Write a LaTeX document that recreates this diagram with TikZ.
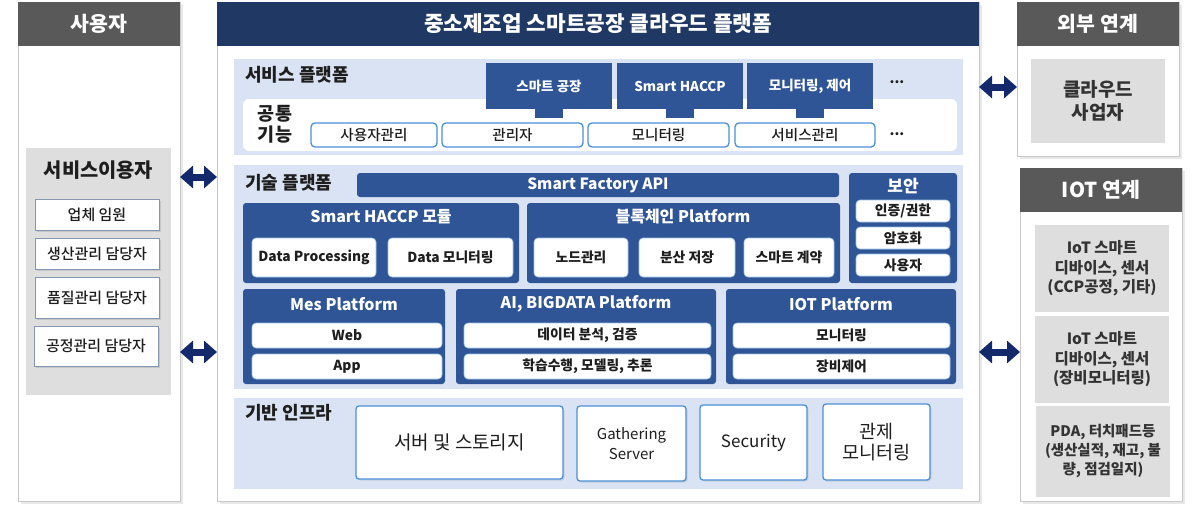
\documentclass[tikz,border=0pt]{standalone}
\usepackage{fontspec}
\setmainfont{Noto Sans CJK KR}
\newfontfamily\med{Noto Sans CJK KR Medium}
\usetikzlibrary{arrows.meta,shadows}
\definecolor{hdrgray}{HTML}{595959}
\definecolor{navyhdr}{HTML}{203864}
\definecolor{navybox}{HTML}{2F5597}
\definecolor{bandblue}{HTML}{DAE3F3}
\definecolor{grayfill}{HTML}{DEDEDE}
\definecolor{arrownavy}{HTML}{13296B}
\definecolor{btnblue}{HTML}{4B8FD6}
\definecolor{lineblue}{HTML}{9DC3E6}
\definecolor{ubtnline}{HTML}{8497B0}
\definecolor{txt}{HTML}{1E1E1E}
\definecolor{graytxt}{HTML}{333333}
\definecolor{panelline}{HTML}{C8C8C8}
\newcommand\fs[2]{\fontsize{#1}{#2}\selectfont}
\newcommand\R[7]{\node[boxbase,#2,minimum width={(#5)-(#3)},minimum height={(#6)-(#4)}] (#1) at ({((#3)+(#5))/2},{((#4)+(#6))/2}) {#7};}
\tikzset{
  boxbase/.style={inner sep=0pt, outer sep=0pt, align=center, text=txt},
  panel/.style={fill=white, draw=panelline, line width=0.6pt,
     drop shadow={opacity=0.18, shadow xshift=3pt, shadow yshift=-3pt}},
  hdrg/.style={fill=hdrgray, text=white, font=\bfseries\fs{20.5}{24}},
  hdrn/.style={fill=navyhdr, text=white, font=\bfseries\fs{21.3}{25}},
  band/.style={fill=bandblue},
  whitearea/.style={fill=white, rounded corners=6pt},
  graybox/.style={fill=grayfill, text=graytxt, font=\bfseries\fs{15.5}{19.5}},
  ubtn/.style={fill=white, draw=ubtnline, line width=0.8pt, font=\med\fs{15}{18},
     drop shadow={opacity=0.25, shadow xshift=1.5pt, shadow yshift=-1.5pt}},
  tab/.style={fill=navybox, text=white, font=\bfseries\fs{13.5}{16}},
  cbtn/.style={fill=white, draw=btnblue, line width=1.3pt, rounded corners=4pt, font=\med\fs{14.6}{17}},
  nbox/.style={fill=navybox, rounded corners=3pt, text=white, font=\bfseries\fs{15.5}{18}},
  ntitle/.style={inner sep=0pt, text=white, font=\bfseries\fs{16}{19}},
  wbtn/.style={fill=white, draw=lineblue, line width=0.6pt, rounded corners=4pt, font=\bfseries\fs{13.8}{16}},
  ibtn/.style={fill=white, draw=btnblue, line width=1.3pt, rounded corners=3pt, font=\fs{17}{20},
     drop shadow={opacity=0.2, shadow xshift=1.5pt, shadow yshift=-1.5pt}},
  bandtitle/.style={inner sep=0pt, anchor=west, text=txt, font=\bfseries\fs{18}{21}},
  dots/.style={inner sep=0pt, text=txt, font=\bfseries\fs{14}{16}},
  fat/.style={arrownavy, line width=7pt, {Triangle[length=13pt,width=22pt]}-{Triangle[length=13pt,width=22pt]}},
}
\begin{document}
\begin{tikzpicture}[x=1pt,y=-1pt]
\useasboundingbox (0,0) rectangle (1200,520);
\fill[white] (0,0) rectangle (1200,520);
% ---------- left panel
\R{userpanel}{panel}{18}{2}{180}{501}{}
\R{userhdr}{hdrg}{18}{2}{180}{46}{사용자}
\R{svcuser}{fill=grayfill}{26}{148}{171}{395}{}
\node[inner sep=0pt, text=txt, font=\bfseries\fs{19.8}{23}] (svcusertitle) at (98.5,170) {서비스이용자};
\R{u1}{ubtn}{35}{199}{159}{230}{업체 임원}
\R{u2}{ubtn}{35}{238}{159}{269}{생산관리 담당자}
\R{u3}{ubtn}{35}{277}{159}{318}{품질관리 담당자}
\R{u4}{ubtn}{34}{326}{158}{366}{공정관리 담당자}
% ---------- central panel
\R{main}{panel}{217}{2}{979}{501}{}
\R{mainhdr}{hdrn}{217}{2}{979}{46}{중소제조업 스마트공장 클라우드 플랫폼}
% service platform
\R{svcband}{band}{234}{59}{963}{155}{}
\node[bandtitle] (svctitle) at (245,75) {서비스 플랫폼};
\R{common}{whitearea}{243}{99}{957}{151}{}
\node[inner sep=0pt, align=center, text=txt, font=\bfseries\fs{18.5}{21.5}] (commontitle) at (275,124.5) {공통\\기능};
\R{t1}{tab}{486}{63}{612}{109}{스마트 공장}
\R{t2}{tab}{617}{63}{743}{109}{Smart HACCP}
\R{t3}{tab}{747}{63}{873}{109}{모니터링, 제어}
\foreach \t in {t1,t2,t3}{\fill[navybox] (\t.south) ++(-14,-0.5) rectangle ++(28,9.5);}
\node[dots] (dots1) at (897,82) {...};
\node[dots] (dots2) at (897,134) {...};
\R{c1}{cbtn}{311}{123}{437}{147}{사용자관리}
\R{c2}{cbtn}{442}{123}{583}{147}{관리자}
\R{c3}{cbtn}{588}{123}{729}{147}{모니터링}
\R{c4}{cbtn}{735}{123}{875}{147}{서비스관리}
% technology platform
\R{techband}{band}{234}{165}{963}{389}{}
\node[bandtitle] (techtitle) at (245,183) {기술 플랫폼};
\R{api}{nbox}{357}{173}{839}{197}{Smart Factory API}
\R{haccp}{nbox}{243}{203}{519}{283}{}
\node[ntitle] (haccpt) at (381,217) {Smart HACCP 모듈};
\R{dp}{wbtn}{252}{238}{376}{277}{Data Processing}
\R{dm}{wbtn}{388}{238}{513}{277}{Data 모니터링}
\R{bc}{nbox}{527}{203}{840}{283}{}
\node[ntitle] (bct) at (683,217) {블록체인 Platform};
\R{b1}{wbtn}{534}{238}{628}{277}{노드관리}
\R{b2}{wbtn}{639}{238}{735}{277}{분산 저장}
\R{b3}{wbtn}{744}{238}{834}{277}{스마트 계약}
\R{sec}{nbox}{849}{173}{957}{283}{}
\node[ntitle, font=\bfseries\fs{17}{20}] (sect) at (903,186) {보안};
\R{s1}{wbtn}{856}{200}{950}{222}{인증/권한}
\R{s2}{wbtn}{856}{227}{950}{249}{암호화}
\R{s3}{wbtn}{856}{254}{950}{276}{사용자}
\R{mes}{nbox}{243}{289}{445}{384}{}
\node[ntitle] (mest) at (344,304) {Mes Platform};
\R{m1}{wbtn}{252}{323}{442}{348}{Web}
\R{m2}{wbtn}{252}{354}{442}{379}{App}
\R{ai}{nbox}{456}{289}{716}{384}{}
\node[ntitle] (ait) at (586,304) {AI, BIGDATA Platform};
\R{a1}{wbtn}{464}{323}{711}{348}{데이터 분석, 검증}
\R{a2}{wbtn}{464}{354}{711}{379}{학습수행, 모델링, 추론}
\R{iot}{nbox}{726}{289}{956}{384}{}
\node[ntitle] (iott) at (841,304) {IOT Platform};
\R{i1}{wbtn}{733}{323}{950}{348}{모니터링}
\R{i2}{wbtn}{733}{354}{950}{379}{장비제어}
% infrastructure
\R{infraband}{band}{234}{398}{963}{489}{}
\node[bandtitle] (infratitle) at (245,413) {기반 인프라};
\R{f1}{ibtn, font=\fs{19}{22}}{356}{406}{563}{479}{서버 및 스토리지}
\R{f2}{ibtn, font=\fs{15}{20}}{577}{406}{686}{481}{Gathering\\Server}
\R{f3}{ibtn}{700}{405}{807}{480}{Security}
\R{f4}{ibtn, font=\fs{18.5}{21}}{823}{404}{930}{480}{관제\\모니터링}
% ---------- right panels
\R{ext}{panel}{1017}{2}{1179}{156}{}
\R{exthdr}{hdrg}{1017}{2}{1179}{46}{외부 연계}
\R{cloud}{graybox, font=\bfseries\fs{19}{23}}{1031}{59}{1165}{143}{클라우드\\사업자}
\R{iotp}{panel}{1020}{168}{1182}{501}{}
\R{iothdr}{hdrg}{1020}{168}{1182}{212}{IOT 연계}
\R{d1}{graybox}{1035}{225}{1169}{312}{IoT 스마트\\디바이스, 센서\\(CCP공정, 기타)}
\R{d2}{graybox}{1035}{316}{1169}{403}{IoT 스마트\\디바이스, 센서\\(장비모니터링)}
\R{d3}{graybox, font=\bfseries\fs{14.5}{19}}{1036}{406}{1170}{497}{PDA, 터치패드등\\(생산실적, 재고, 불\\량, 점검일지)}
% ---------- arrows
\coordinate (la1) at (userpanel.east |- 0,177);
\coordinate (lb1) at (main.west |- 0,177);
\coordinate (la2) at (userpanel.east |- 0,352);
\coordinate (lb2) at (main.west |- 0,352);
\coordinate (ra1) at (main.east |- 0,87);
\coordinate (rb1) at (ext.west |- 0,87);
\coordinate (ra2) at (main.east |- 0,352);
\coordinate (rb2) at (iotp.west |- 0,352);
\draw[fat] (la1) -- (lb1);
\draw[fat] (la2) -- (lb2);
\draw[fat] (ra1) -- (rb1);
\draw[fat] (ra2) -- (rb2);
\end{tikzpicture}
\end{document}
